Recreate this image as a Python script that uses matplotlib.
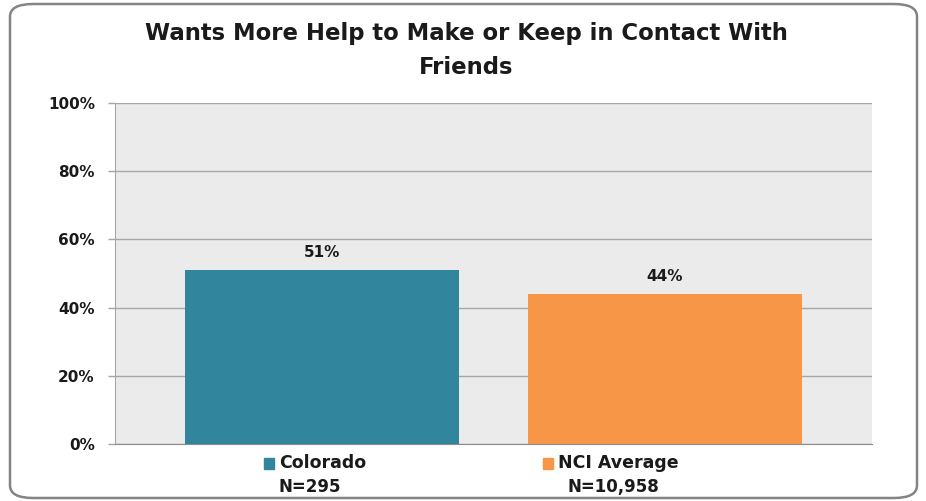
import matplotlib.pyplot as plt
from matplotlib.patches import FancyBboxPatch, Rectangle

categories = ["Colorado", "NCI Average"]
sample_sizes = ["N=295", "N=10,958"]
values = [51, 44]
colors = ["#31859C", "#F79646"]
y_ticks = [0, 20, 40, 60, 80, 100]

W, H = 926, 501
fig = plt.figure(figsize=(W / 100, H / 100), dpi=100)

# rounded chart border
fig.patches.append(FancyBboxPatch((10 / W, 3 / H), 907 / W, 494 / H,
                                  boxstyle="round,pad=0,rounding_size=0.025",
                                  transform=fig.transFigure, fill=False,
                                  ec="#848484", lw=1.8))

ax = fig.add_axes([115 / W, 1 - 444 / H, 757 / W, 341 / H])
ax.set_facecolor("#EBEBEB")

x = list(range(len(categories)))
ax.bar(x, values, width=0.8, color=colors, zorder=3)
for xi, v in zip(x, values):
    ax.text(xi, v + 3, f"{v}%", ha="center", va="bottom",
            fontsize=11, fontweight="bold", color="#1a1a1a")

ax.set_xlim(-0.604, 1.604)
ax.set_ylim(0, 100)
ax.set_yticks(y_ticks)
ax.set_yticklabels([f"{t}%" for t in y_ticks], fontsize=11,
                   fontweight="bold", color="#1a1a1a")
ax.tick_params(axis="y", length=5, width=1, color="#A6A6A6", pad=9.5)
ax.set_xticks([])
ax.grid(axis="y", color="#A6A6A6", lw=1, zorder=1)
for s in ["top", "right"]:
    ax.spines[s].set_visible(False)
ax.spines["left"].set_color("#A6A6A6")
ax.spines["bottom"].set_color("#8C8C8C")

# category labels with colour key below the axis
label_x = [316 / W, 611 / W]
n_x = [310 / W, 613 / W]
for lx, nx, name, n, c in zip(label_x, n_x, categories, sample_sizes, colors):
    t = fig.text(lx + 7 / W, 1 - 463 / H, name, ha="center", va="center",
                 fontsize=12.5, fontweight="bold", color="#1a1a1a")
    fig.canvas.draw()
    bb = t.get_window_extent()
    fig.patches.append(Rectangle(((bb.x0 - 15) / W, (H - 469) / H), 10 / W, 11 / H,
                                 transform=fig.transFigure, color=c))
    fig.text(nx, 1 - 487 / H, n, ha="center", va="center",
             fontsize=12, fontweight="bold", color="#1a1a1a")

fig.text(466 / W, 1 - 50.5 / H,
         "Wants More Help to Make or Keep in Contact With\nFriends",
         ha="center", va="center", fontsize=16.4, fontweight="bold",
         color="#1a1a1a", linespacing=1.6)

fig.savefig("out.png", dpi=100)
